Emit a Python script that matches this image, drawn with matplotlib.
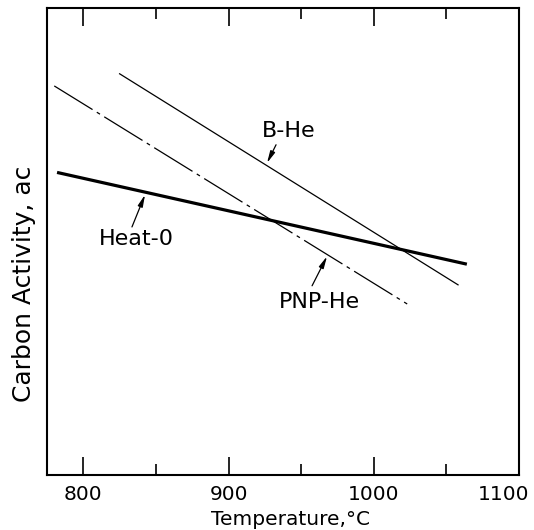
import matplotlib.pyplot as plt
import numpy as np

# end points of each line (temperature in C, carbon activity in arbitrary units)
temp_bhe = [825, 1058]
ac_bhe = [0.859, 0.407]

temp_pnp = [780, 1023]
ac_pnp = [0.833, 0.366]

temp_heat = [783, 1063]
ac_heat = [0.647, 0.452]

# label text, label centre, arrow tail, arrow head
labels = ["B-He", "Heat-0", "PNP-He"]
label_xy = [(941.6, 0.737), (836.3, 0.505), (962.3, 0.370)]
tail_xy = [(932.7, 0.707), (833.5, 0.531), (957.5, 0.405)]
head_xy = [(926.5, 0.668), (842.5, 0.600), (967.8, 0.468)]

xticks = [800, 900, 1000, 1100]
xticklabels = ["800", "900", "1000", ""]
xminor = [850, 950, 1050]

fig = plt.figure(figsize=(5.34, 5.30), dpi=100)
ax = fig.add_axes([0.088, 0.104, 0.884, 0.881])

ax.plot(temp_bhe, ac_bhe, color='black', linewidth=0.9)
ax.plot(temp_pnp, ac_pnp, color='black', linewidth=0.9,
        linestyle=(0, (36, 4, 3, 4)))
ax.plot(temp_heat, ac_heat, color='black', linewidth=2.3)

for name, (lx, ly), tail, head in zip(labels, label_xy, tail_xy, head_xy):
    ax.text(lx, ly, name, fontsize=16, ha='center', va='center')
    ax.annotate('', xy=head, xytext=tail,
                arrowprops=dict(arrowstyle='-|>,head_length=0.7,head_width=0.15',
                                color='black', linewidth=0.9,
                                shrinkA=0, shrinkB=0))

ax.set_xlim(775, 1100)
ax.set_ylim(0, 1)

ax.set_xticks(xticks)
ax.set_xticklabels(xticklabels)
ax.set_xticks(xminor, minor=True)
ax.set_yticks([])
ax.tick_params(axis='x', which='major', direction='in', length=13, width=1.2,
               top=True, labelsize=14.5, pad=7)
ax.tick_params(axis='x', which='minor', direction='in', length=8, width=1.2,
               top=True)

# last tick label sits pulled in from the right edge
ax.annotate("1100", xy=(1100, 0), xycoords=('data', 'axes fraction'),
            xytext=(-11, -7), textcoords='offset points',
            ha='center', va='top', fontsize=14.5)

for s in ax.spines.values():
    s.set_linewidth(1.5)

ax.set_xlabel("Temperature,\u00b0C", fontsize=14.5)
ax.xaxis.set_label_coords(0.515, -0.075)
ax.set_ylabel("Carbon Activity, ac", fontsize=18)
ax.yaxis.set_label_coords(-0.024, 0.409)

fig.savefig("out.png", dpi=100)
